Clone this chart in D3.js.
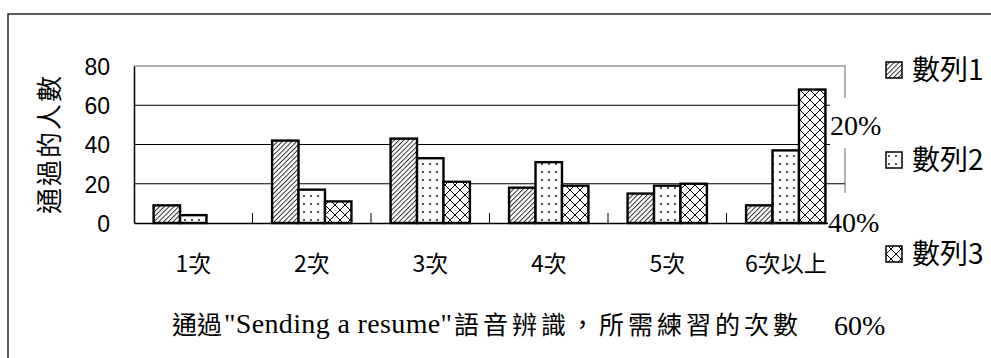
<!DOCTYPE html>
<html>
<head>
<meta charset="utf-8">
<script src="https://cdn.jsdelivr.net/npm/d3@7"></script>
<style>
  body { margin: 0; background: #fff; }
  svg { display: block; }
</style>
</head>
<body>
<div id="chart"></div>
<script>
const categories = ["1次", "2次", "3次", "4次", "5次", "6次以上"];
const series1 = [9, 42, 43, 18, 15, 9];
const series2 = [4, 17, 33, 31, 19, 37];
const series3 = [0, 11, 21, 19, 20, 68];
const seriesNames = ["數列1", "數列2", "數列3"];
const yTicks = [0, 20, 40, 60, 80];
const pctLabels = ["20%", "40%", "60%"];

const width = 991;
const height = 358;
const cjk = "'Noto Sans CJK TC'";
const sans = "'Liberation Sans'";
const serif = "'Liberation Serif'";

const plot = { left: 134, right: 845, top: 66, bottom: 223 };

var svg = d3
  .select("#chart")
  .append("svg")
  .attr("width", width)
  .attr("height", height);

// fill patterns for the three series
var defs = svg.append("defs");

defs
  .append("pattern")
  .attr("id", "hatch")
  .attr("patternUnits", "userSpaceOnUse")
  .attr("width", 3.4)
  .attr("height", 3.4)
  .attr("patternTransform", "rotate(45)")
  .call((p) => p.append("rect").attr("width", 3.4).attr("height", 3.4).attr("fill", "#fff"))
  .append("line")
  .attr("x1", 0.5)
  .attr("y1", 0)
  .attr("x2", 0.5)
  .attr("y2", 3.4)
  .attr("stroke", "#000")
  .attr("stroke-width", 0.8);

defs
  .append("pattern")
  .attr("id", "dots")
  .attr("patternUnits", "userSpaceOnUse")
  .attr("width", 7)
  .attr("height", 8)
  .call((p) => p.append("rect").attr("width", 7).attr("height", 8).attr("fill", "#fff"))
  .append("circle")
  .attr("cx", 3)
  .attr("cy", 4)
  .attr("r", 0.9)
  .attr("fill", "#000");

defs
  .append("pattern")
  .attr("id", "cross")
  .attr("patternUnits", "userSpaceOnUse")
  .attr("width", 10)
  .attr("height", 10)
  .call((p) => p.append("rect").attr("width", 10).attr("height", 10).attr("fill", "#fff"))
  .append("path")
  .attr("d", "M0,0L10,10M10,0L0,10")
  .attr("stroke", "#000")
  .attr("stroke-width", 1);

const fills = ["url(#hatch)", "url(#dots)", "url(#cross)"];

// outer frame (only top and left edges are visible)
svg
  .append("path")
  .attr("d", `M8,${height}V14H${width}`)
  .attr("fill", "none")
  .attr("stroke", "#222")
  .attr("stroke-width", 1.5);

const x = d3
  .scaleBand()
  .domain(categories)
  .range([plot.left, plot.right])
  .padding(0);

const xInner = d3
  .scaleBand()
  .domain(seriesNames)
  .range([0, x.bandwidth()])
  .paddingInner(0)
  .paddingOuter(0.74);

const y = d3.scaleLinear().domain([0, 80]).range([plot.bottom, plot.top]);

// plot area: gray right border + top, gridlines
svg
  .append("path")
  .attr("d", `M${plot.left},${plot.top}H${plot.right}V${plot.bottom}`)
  .attr("fill", "none")
  .attr("stroke", "#999")
  .attr("stroke-width", 1.5);

svg
  .append("g")
  .selectAll("line")
  .data(yTicks.filter((d) => d > 0 && d < 80))
  .join("line")
  .attr("x1", plot.left)
  .attr("x2", plot.right)
  .attr("y1", (d) => y(d))
  .attr("y2", (d) => y(d))
  .attr("stroke", "#000")
  .attr("stroke-width", 1);

// y axis
var yAxis = svg
  .append("g")
  .attr("transform", `translate(${plot.left},0)`)
  .call(d3.axisLeft(y).tickValues(yTicks).tickSize(0).tickPadding(24));
yAxis.select(".domain").attr("stroke", "#000").attr("stroke-width", 1.5);
yAxis
  .selectAll("text")
  .style("font-family", sans)
  .style("font-size", "23px")
  .attr("fill", "#000")
  .attr("dy", "0.36em");

// bars
const allSeries = [series1, series2, series3];
var groups = svg
  .append("g")
  .selectAll("g")
  .data(seriesNames)
  .join("g")
  .attr("fill", (d, i) => fills[i]);

groups
  .selectAll("rect")
  .data((s, i) =>
    allSeries[i].map((v, j) => ({ cat: categories[j], s: s, v: v })).filter((d) => d.v > 0),
  )
  .join("rect")
  .attr("x", (d) => x(d.cat) + xInner(d.s))
  .attr("y", (d) => y(d.v))
  .attr("width", xInner.bandwidth())
  .attr("height", (d) => y(0) - y(d.v))
  .attr("stroke", "#000")
  .attr("stroke-width", 2.4);

// x axis with tick marks pointing inward at category boundaries
var xAxis = svg
  .append("g")
  .attr("transform", `translate(0,${plot.bottom})`)
  .call(d3.axisBottom(x).tickSize(0).tickPadding(33));
xAxis.select(".domain").attr("stroke", "#000").attr("stroke-width", 1.5);
xAxis
  .selectAll("text")
  .style("font-family", cjk)
  .style("font-size", "23px")
  .attr("fill", "#000");

svg
  .append("g")
  .selectAll("line")
  .data(categories.slice(1))
  .join("line")
  .attr("x1", (d) => x(d))
  .attr("x2", (d) => x(d))
  .attr("y1", plot.bottom)
  .attr("y2", plot.bottom - 10)
  .attr("stroke", "#000")
  .attr("stroke-width", 1);

// y axis title
svg
  .append("text")
  .attr("transform", "translate(59,144) rotate(-90)")
  .attr("text-anchor", "middle")
  .style("font-family", cjk)
  .style("font-size", "26px")
  .attr("letter-spacing", 2)
  .text("通過的人數");

// x axis title: CJK parts and the quoted english part as separate texts
svg
  .append("text")
  .attr("x", 172)
  .attr("y", 334)
  .style("font-family", cjk)
  .style("font-size", "25px")
  .text("通過");
svg
  .append("text")
  .attr("x", 224)
  .attr("y", 333)
  .style("font-family", serif)
  .style("font-size", "28px")
  .attr("textLength", 228)
  .text('"Sending a resume"');
svg
  .append("text")
  .attr("x", 454)
  .attr("y", 334)
  .style("font-family", cjk)
  .style("font-size", "25px")
  .attr("textLength", 344)
  .text("語音辨識，所需練習的次數");

// stray percent labels with white boxes (they hide part of the plot border)
const pctPos = [
  { x: 830, y: 125 },
  { x: 828, y: 222 },
  { x: 834, y: 325 },
];
var pct = svg
  .append("g")
  .selectAll("g")
  .data(pctLabels)
  .join("g")
  .attr("transform", (d, i) => `translate(${pctPos[i].x},${pctPos[i].y})`);
pct
  .append("rect")
  .attr("x", 0)
  .attr("y", (d, i) => (i == 0 ? -27 : -29))
  .attr("width", 52)
  .attr("height", (d, i) => (i == 0 ? 50 : 56))
  .attr("fill", "#fff");
pct
  .append("text")
  .style("font-family", serif)
  .style("font-size", "28px")
  .attr("dy", "0.35em")
  .text((d) => d);

// legend
const legendY = [70, 160, 254];
var legend = svg
  .append("g")
  .selectAll("g")
  .data(seriesNames)
  .join("g")
  .attr("transform", (d, i) => `translate(886,${legendY[i]})`);
legend
  .append("rect")
  .attr("x", 0)
  .attr("y", -8)
  .attr("width", 16)
  .attr("height", 16)
  .attr("fill", (d, i) => fills[i])
  .attr("stroke", "#000")
  .attr("stroke-width", 1.5);
legend
  .append("text")
  .attr("x", 26)
  .attr("dy", "0.36em")
  .style("font-family", cjk)
  .style("font-size", "28px")
  .text((d) => d);
</script>
</body>
</html>
